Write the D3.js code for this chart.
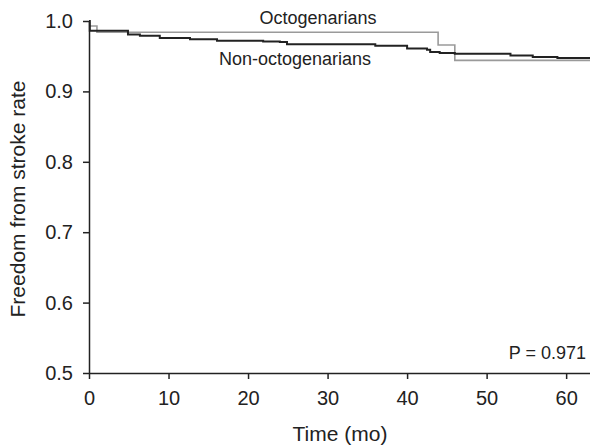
<!DOCTYPE HTML>
<html>
<head>
	<meta charset="utf-8">
	<style>
		body { margin: 0; background: #fff; }
		svg text { font-family: "Liberation Sans", Arial, sans-serif; fill: #222; }
		.axis path, .axis line { stroke: #222; stroke-width: 1.5px; }
		.axis text { font-size: 20px; }
		.line { fill: none; }
	</style>
	<script src="https://cdn.jsdelivr.net/npm/d3@7"></script>
</head>
<body>
<script>
	// Kaplan-Meier steps (months, survival)
	var nonOctoTimes = [0, 0.1, 4.9, 6.4, 8.9, 12.7, 16.1, 21.9, 24.0, 24.9, 36, 40, 42.5, 42.9, 44.1, 46, 53, 55.8, 58.9, 63];
	var nonOctoSurv  = [1.0, 0.986, 0.981, 0.979, 0.976, 0.974, 0.972, 0.971, 0.970, 0.967, 0.965, 0.961, 0.959, 0.956, 0.9545, 0.9535, 0.951, 0.949, 0.9474, 0.9474];
	var octoTimes = [0, 1.0, 43.9, 46.0, 63];
	var octoSurv  = [0.993, 0.984, 0.966, 0.944, 0.944];
	var xTicks = [0, 10, 20, 30, 40, 50, 60];
	var yTicks = [0.5, 0.6, 0.7, 0.8, 0.9, 1.0];

	var width = 590, height = 445;
	var svg = d3.select("body").append("svg")
		.attr("width", width)
		.attr("height", height);

	var x = d3.scaleLinear().domain([0, 63]).range([89, 590]);
	var y = d3.scaleLinear().domain([0.5, 1.0]).range([373, 21]);

	var line = d3.line()
		.x(function(d) { return x(d[0]); })
		.y(function(d) { return y(d[1]); })
		.curve(d3.curveStepAfter);

	var octo = d3.zip(octoTimes, octoSurv);
	var nonOcto = d3.zip(nonOctoTimes, nonOctoSurv);

	svg.append("path")
		.datum(octo)
		.attr("class", "line")
		.attr("stroke", "#9a9a9a")
		.attr("stroke-width", 1.6)
		.attr("d", line);

	svg.append("path")
		.datum(nonOcto)
		.attr("class", "line")
		.attr("stroke", "#222")
		.attr("stroke-width", 2)
		.attr("d", line);

	svg.append("g")
		.attr("class", "axis")
		.attr("transform", "translate(0," + y(0.5) + ")")
		.call(d3.axisBottom(x).tickValues(xTicks).tickSize(6).tickSizeOuter(0).tickPadding(12))
		.call(function(g) { g.selectAll("text").attr("fill", "#222"); });

	svg.append("g")
		.attr("class", "axis")
		.attr("transform", "translate(" + x(0) + ",0)")
		.call(d3.axisLeft(y).tickValues(yTicks).tickFormat(d3.format(".1f")).tickSize(6).tickSizeOuter(0).tickPadding(10))
		.call(function(g) { g.selectAll("text").attr("fill", "#222"); });

	svg.append("text")
		.attr("x", 340)
		.attr("y", 441)
		.attr("text-anchor", "middle")
		.style("font-size", "21px")
		.text("Time (mo)");

	svg.append("text")
		.attr("transform", "translate(25,199) rotate(-90)")
		.attr("text-anchor", "middle")
		.style("font-size", "21px")
		.text("Freedom from stroke rate");

	svg.append("text")
		.attr("x", 318)
		.attr("y", 24)
		.attr("text-anchor", "middle")
		.style("font-size", "18px")
		.text("Octogenarians");

	svg.append("text")
		.attr("x", 295)
		.attr("y", 65)
		.attr("text-anchor", "middle")
		.style("font-size", "18px")
		.text("Non-octogenarians");

	svg.append("text")
		.attr("x", 586)
		.attr("y", 359)
		.attr("text-anchor", "end")
		.style("font-size", "18px")
		.text("P = 0.971");
</script>
</body>
</html>
